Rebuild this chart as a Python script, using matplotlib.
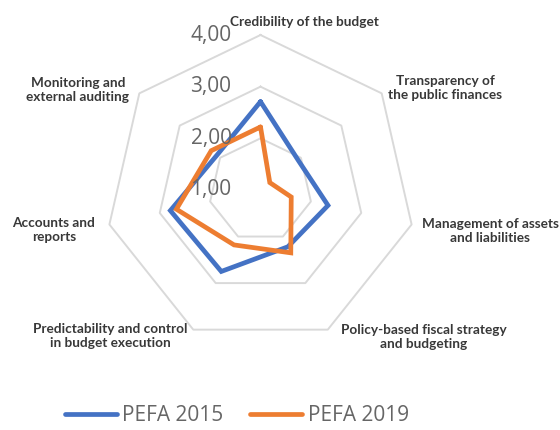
import numpy as np
import matplotlib
matplotlib.use("Agg")
import matplotlib.pyplot as plt

categories = ["Credibility of the budget",
              "Transparency of\nthe public finances",
              "Management of assets\nand liabilities",
              "Policy-based fiscal strategy\nand budgeting",
              "Predictability and control\nin budget execution",
              "Accounts and\nreports",
              "Monitoring and\nexternal auditing"]
pefa_2015 = [2.71, 1.93, 2.34, 2.22, 2.75, 2.79, 2.08]
pefa_2019 = [2.22, 1.23, 1.61, 2.35, 2.18, 2.67, 2.22]
levels = [1, 2, 3, 4]
level_labels = ["1,00", "2,00", "3,00", "4,00"]

blue = "#4472C4"
orange = "#ED7D31"
grid_col = "#D9D9D9"

fig = plt.figure(figsize=(5.6, 4.3), dpi=100)
ax = fig.add_axes([0.1884, 0.1977, 0.5536, 0.7209], projection="polar")
ax.set_theta_zero_location("N")
ax.set_theta_direction(-1)
ax.set_ylim(1, 4)
ax.grid(False)
ax.spines["polar"].set_visible(False)
ax.set_xticks([])
ax.set_yticks([])
ax.patch.set_alpha(0)

n = len(categories)
angles = np.linspace(0, 2 * np.pi, n, endpoint=False)
closed = np.append(angles, angles[0])

# heptagon grid
for lv in levels[1:]:
    ax.plot(closed, [lv] * (n + 1), color=grid_col, lw=1.4, zorder=1, clip_on=False)

ax.plot(closed, pefa_2015 + pefa_2015[:1], color=blue, lw=3.4, label="PEFA 2015",
        solid_joinstyle="miter", solid_capstyle="round", zorder=3, clip_on=False)
ax.plot(closed, pefa_2019 + pefa_2019[:1], color=orange, lw=3.4, label="PEFA 2019",
        solid_joinstyle="miter", solid_capstyle="round", zorder=4, clip_on=False)

for lv, txt in zip(levels, level_labels):
    ax.annotate(txt, xy=(0, lv), xytext=(-29, 0), textcoords="offset pixels",
                ha="right", va="center", fontsize=15, color="#666666",
                family="Open Sans", zorder=6, annotation_clip=False)

# category labels (pixel centres)
label_pos = [(304, 22), (445, 88), (490, 231), (424, 337), (110, 336), (54, 230), (78, 90)]
for lab, (px, py) in zip(categories, label_pos):
    fig.text(px / 560, 1 - py / 430, lab, ha="center", va="center",
             fontsize=9.8, fontweight="bold", color="#383838", family="Lato",
             linespacing=1.2)

leg = fig.legend(loc="center", bbox_to_anchor=(0.4226, 0.0326), ncol=2, frameon=False,
                 prop={"family": "Open Sans", "size": 15}, handlelength=2.5,
                 handletextpad=0.25, columnspacing=1.3, borderpad=0)
for t in leg.get_texts():
    t.set_color("#666666")

fig.savefig("out.png", dpi=100)
